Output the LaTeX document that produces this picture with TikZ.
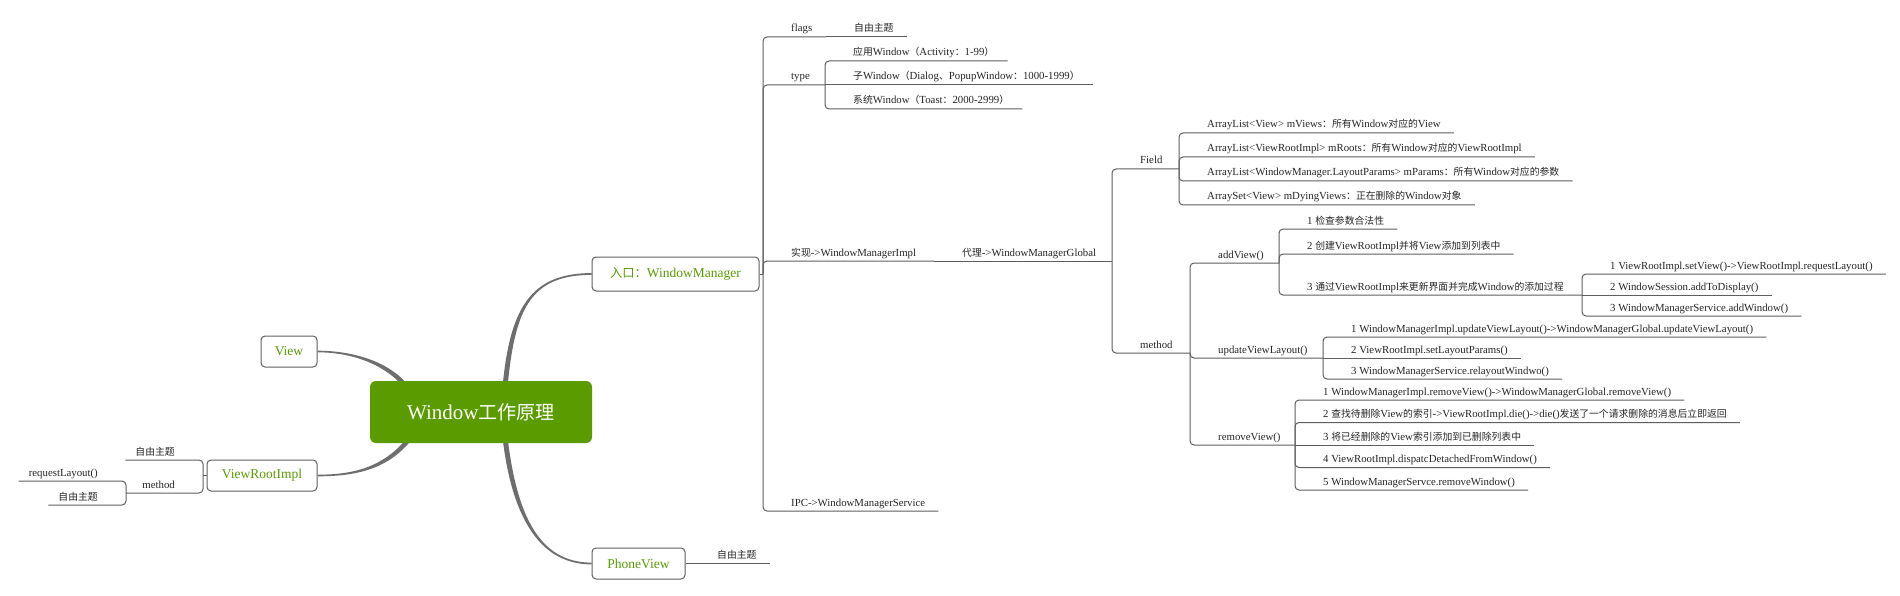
\documentclass[tikz,border=0pt]{standalone}
\usepackage{fontspec}
\setmainfont{Liberation Serif}
\newfontfamily\cjkfont[Scale=0.91]{Noto Sans CJK SC}
\newcommand\zh[1]{{\cjkfont #1}}
\usetikzlibrary{calc}
\pgfdeclarelayer{bg}
\pgfsetlayers{bg,main}
\definecolor{mmgreen}{HTML}{5A9C00}
\definecolor{mmline}{HTML}{5E5E5E}
\definecolor{mmcurve}{HTML}{6E6E6E}
\definecolor{mmtext}{HTML}{262626}
\definecolor{mmborder}{HTML}{606060}
\tikzset{
  leaf/.style={anchor=base west, inner sep=0pt, font=\fontsize{10.8}{12}\selectfont, text=mmtext},
  leafL/.style={leaf, anchor=base east},
  conn/.style={draw=mmline, line width=1pt, rounded corners=4pt},
  topic/.style={draw=mmborder, line width=1pt, rounded corners=4pt, text=mmgreen,
    font=\fontsize{13.5}{15}\selectfont, inner sep=0pt, minimum height=31pt},
  rootnode/.style={fill=mmgreen, rounded corners=6pt, text=white, font=\fontsize{21}{24}\selectfont,
    minimum width=222pt, minimum height=62pt, inner sep=0pt},
  curvefill/.style={fill=mmcurve},
}
% right-side child: #1 path op, #2 name, #3 from, #4 bracket x, #5 line y, #6 text
\newcommand\mmleaf[6][|-]{%
  \node[leaf] (#2) at ({#4+28},{#5-5}) {#6};
  \draw[conn] (#3) #1 ($(#2.base east)+(13,5)$);}
% right-side parent: #7 own bracket x
\newcommand\mmpar[7][|-]{%
  \node[leaf] (#2) at ({#4+28},{#5-5}) {#6};
  \coordinate (#2-b) at (#7,#5);
  \draw[conn] (#3) #1 (#2-b);}
% left-side versions
\newcommand\mmleafL[6][|-]{%
  \node[leafL] (#2) at ({#4-28},{#5-5}) {#6};
  \draw[conn] (#3) #1 ($(#2.base west)+(-10,5)$);}
\newcommand\mmparL[7][|-]{%
  \node[leafL] (#2) at ({#4-28},{#5-5}) {#6};
  \coordinate (#2-b) at (#7,#5);
  \draw[conn] (#3) #1 (#2-b);}
% tapered curve: #1 start, #2 ctrl1, #3 ctrl2, #4 end, #5 half width start, #6 half width end
\newcommand\mmtaper[6]{%
  \coordinate (tSa) at ($(#1)!#5!90:(#2)$);
  \coordinate (tSb) at ($(#1)!#5!-90:(#2)$);
  \coordinate (tEa) at ($(#4)!#6!-90:(#3)$);
  \coordinate (tEb) at ($(#4)!#6!90:(#3)$);
  \fill[curvefill] (tSa) .. controls ($(#2)+(tSa)-(#1)$) and ($(#3)+(tEa)-(#4)$) .. (tEa)
    -- (tEb) .. controls ($(#3)+(tEb)-(#4)$) and ($(#2)+(tSb)-(#1)$) .. (tSb) -- cycle;}
\begin{document}
\begin{tikzpicture}[x=1pt,y=-1pt]
\useasboundingbox (0,0) rectangle (1900,596);

% main topics
\node[rootnode] (root) at (481,412) {Window\zh{工作原理}};
\node[topic, minimum width=167pt, minimum height=34pt] (wm) at (675.5,274) {\zh{入口：}WindowManager};
\node[topic, minimum width=56pt] (view) at (289,351.5) {View};
\node[topic, minimum width=110pt] (vri) at (262,475.5) {ViewRootImpl};
\node[topic, minimum width=93pt] (pv) at (638.5,563.5) {PhoneView};

% tapered curves from the central topic
\begin{pgfonlayer}{bg}
  \fill[white] (0,0) rectangle (1900,596);
  \coordinate (cV0) at ($(root.north west)+(35,4)$);
  \coordinate (cV1) at ($(cV0)+(-20,-23)$);
  \coordinate (cV2) at ($(view.east)+(33,0)$);
  \mmtaper{cV0}{cV1}{cV2}{view.east}{2.3pt}{0.8pt}
  \coordinate (cR0) at ($(root.south west)+(40,-5)$);
  \coordinate (cR1) at ($(cR0)+(-25,32)$);
  \coordinate (cR2) at ($(vri.east)+(33,0)$);
  \mmtaper{cR0}{cR1}{cR2}{vri.east}{2.3pt}{0.8pt}
  \coordinate (cW0) at ($(root.north west)+(135,9)$);
  \coordinate (cW1) at ($(cW0)+(7,-80)$);
  \coordinate (cW2) at ($(wm.west)+(-62,0)$);
  \mmtaper{cW0}{cW1}{cW2}{wm.west}{2.5pt}{0.9pt}
  \coordinate (cP0) at ($(root.south west)+(135,-8)$);
  \coordinate (cP1) at ($(cP0)+(10,90)$);
  \coordinate (cP2) at ($(pv.west)+(-47,0)$);
  \mmtaper{cP0}{cP1}{cP2}{pv.west}{2.5pt}{0.9pt}
\end{pgfonlayer}

% WindowManager branch
\coordinate (wm-b) at (763,274);
\draw[conn] (wm.east) -- (wm-b);
\mmpar{flags}{wm-b}{763}{37}{flags}{826}
\mmleaf[--]{flagsT}{flags-b}{826}{37}{\zh{自由主题}}
\mmpar{type}{wm-b}{763}{85}{type}{825}
\mmleaf{typeA}{type-b}{825}{61}{\zh{应用}Window\zh{（}Activity\zh{：}1-99\zh{）}}
\mmleaf[--]{typeB}{type-b}{825}{85}{\zh{子}Window\zh{（}Dialog\zh{、}PopupWindow\zh{：}1000-1999\zh{）}}
\mmleaf{typeC}{type-b}{825}{109}{\zh{系统}Window\zh{（}Toast\zh{：}2000-2999\zh{）}}
\mmpar{impl}{wm-b}{763}{261}{\zh{实现}->WindowManagerImpl}{934}
\mmpar[--]{glob}{impl-b}{934}{261}{\zh{代理}->WindowManagerGlobal}{1112}
\mmpar{field}{glob-b}{1112}{169}{Field}{1179}
\mmleaf{fA}{field-b}{1179}{133}{ArrayList<View> mViews\zh{：}\zh{所有}Window\zh{对应的}View}
\mmleaf{fB}{field-b}{1179}{157}{ArrayList<ViewRootImpl> mRoots\zh{：所有}Window\zh{对应的}ViewRootImpl}
\mmleaf{fC}{field-b}{1179}{181}{ArrayList<WindowManager.LayoutParams> mParams\zh{：所有}Window\zh{对应的参数}}
\mmleaf{fD}{field-b}{1179}{205}{ArraySet<View> mDyingViews\zh{：正在删除的}Window\zh{对象}}
\mmpar{meth}{glob-b}{1112}{353}{method}{1190}
\mmpar{add}{meth-b}{1190}{263}{addView()}{1279}
\mmleaf{addA}{add-b}{1279}{229}{1 \zh{检查参数合法性}}
\mmleaf{addB}{add-b}{1279}{254}{2 \zh{创建}ViewRootImpl\zh{并将}View\zh{添加到列表中}}
\mmpar{addC}{add-b}{1279}{295}{3 \zh{通过}ViewRootImpl\zh{来更新界面并完成}Window\zh{的添加过程}}{1582}
\mmleaf{addC1}{addC-b}{1582}{274}{1 ViewRootImpl.setView()->ViewRootImpl.requestLayout()}
\mmleaf[--]{addC2}{addC-b}{1582}{295}{2 WindowSession.addToDisplay()}
\mmleaf{addC3}{addC-b}{1582}{316}{3 WindowManagerService.addWindow()}
\mmpar{upd}{meth-b}{1190}{358}{updateViewLayout()}{1323}
\mmleaf{updA}{upd-b}{1323}{337}{1 WindowManagerImpl.updateViewLayout()->WindowManagerGlobal.updateViewLayout()}
\mmleaf[--]{updB}{upd-b}{1323}{358}{2 ViewRootImpl.setLayoutParams()}
\mmleaf{updC}{upd-b}{1323}{379}{3 WindowManagerService.relayoutWindwo()}
\mmpar{rem}{meth-b}{1190}{445}{removeView()}{1295}
\mmleaf{remA}{rem-b}{1295}{400}{1 WindowManagerImpl.removeView()->WindowManagerGlobal.removeView()}
\mmleaf{remB}{rem-b}{1295}{422.5}{2 \zh{查找待删除}View\zh{的索引}->ViewRootImpl.die()->die()\zh{发送了一个请求删除的消息后立即返回}}
\mmleaf[--]{remC}{rem-b}{1295}{445}{3 \zh{将已经删除的}View\zh{索引添加到已删除列表中}}
\mmleaf{remD}{rem-b}{1295}{467.5}{4 ViewRootImpl.dispatcDetachedFromWindow()}
\mmleaf{remE}{rem-b}{1295}{490}{5 WindowManagerServce.removeWindow()}
\mmleaf{ipc}{wm-b}{763}{511}{IPC->WindowManagerService}

% PhoneView branch
\coordinate (pv-b) at (689,563.5);
\draw[conn] (pv.east) -- (pv-b);
\mmleaf[--]{pvT}{pv-b}{689}{563.5}{\zh{自由主题}}

% ViewRootImpl branch (left side)
\coordinate (vri-b) at (203,475.5);
\draw[conn] (vri.west) -- (vri-b);
\mmleafL{vriT}{vri-b}{203}{460}{\zh{自由主题}}
\mmparL{vriM}{vri-b}{203}{493}{method}{126}
\mmleafL{vriM1}{vriM-b}{126}{481}{requestLayout()}
\mmleafL{vriM2}{vriM-b}{126}{505}{\zh{自由主题}}
\end{tikzpicture}
\end{document}
